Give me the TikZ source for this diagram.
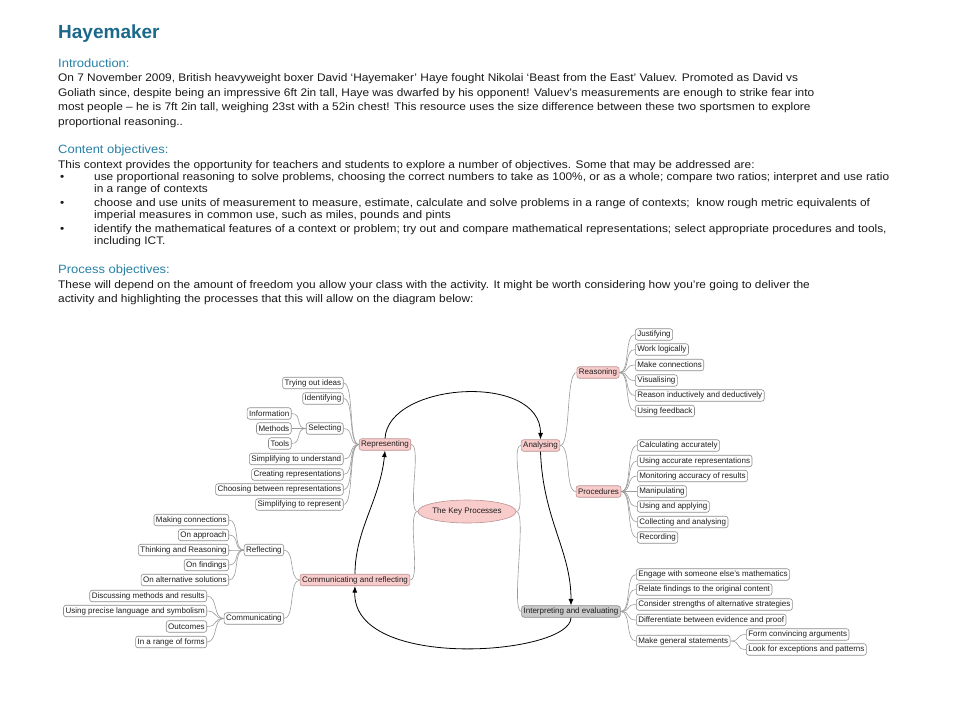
\documentclass[tikz,border=0pt]{standalone}
\usepackage{fontspec}
\setmainfont{Liberation Sans}
\newfontfamily\bodyfont[FakeStretch=1.08]{Liberation Sans}
\usepackage{xcolor}
\usetikzlibrary{shapes.geometric, arrows.meta}

\definecolor{titleblue}{RGB}{27,104,138}
\definecolor{headblue}{RGB}{38,128,165}
\definecolor{bodytext}{RGB}{25,25,25}
\definecolor{nodetext}{RGB}{30,30,30}
\definecolor{leafline}{RGB}{140,140,140}
\definecolor{branchgray}{RGB}{155,155,155}
\definecolor{pinkfill}{RGB}{249,204,204}
\definecolor{pinkline}{RGB}{190,145,145}
\definecolor{greyfill}{RGB}{202,202,202}
\definecolor{greyline}{RGB}{140,140,140}

\tikzset{
    body/.style={anchor=base west, inner sep=0pt, font=\bodyfont\fontsize{11}{13}\selectfont, text=bodytext},
    heading/.style={body, font=\bodyfont\fontsize{12}{14}\selectfont, text=headblue},
    leaf/.style={draw=leafline, line width=0.6pt, fill=white, rounded corners=2.5pt, font=\fontsize{8}{9}\selectfont,
        text=nodetext, inner xsep=2pt, inner ysep=0pt, minimum height=11.5pt},
    mainbox/.style={leaf, fill=pinkfill, draw=pinkline},
    evalbox/.style={leaf, fill=greyfill, draw=greyline},
    branch/.style={draw=branchgray, line width=0.6pt, out distance=11pt, in distance=11pt},
    loopline/.style={->, line width=0.8pt, black}
}

\begin{document}
\begin{tikzpicture}[x=1pt, y=-1pt, >={Latex[length=6.5pt,width=5pt]}]
    \useasboundingbox (0,0) rectangle (960,720);

    % 1. Header text
    \node[body, font=\fontsize{19}{22}\selectfont\bfseries, text=titleblue] (title) at (58,38) {Hayemaker};
    \node[heading] (intro) at (58,67) {Introduction:};
    \node[body] (i1) at (58,81.5) {On 7 November 2009, British heavyweight boxer David ‘Hayemaker’ Haye fought Nikolai ‘Beast from the East’ Valuev. Promoted as David vs};
    \node[body] (i2) at (58,96) {Goliath since, despite being an impressive 6ft 2in tall, Haye was dwarfed by his opponent! Valuev’s measurements are enough to strike fear into};
    \node[body] (i3) at (58,110.5) {most people – he is 7ft 2in tall, weighing 23st with a 52in chest! This resource uses the size difference between these two sportsmen to explore};
    \node[body] (i4) at (58,125) {proportional reasoning..};

    \node[heading] (content) at (58,153.5) {Content objectives:};
    \node[body] (c0) at (58,168) {This context provides the opportunity for teachers and students to explore a number of objectives. Some that may be addressed are:};
    \foreach \y/\n in {180.5/b1, 206.5/b2, 232.5/b3}
        \node[body] (\n) at (60,\y) {•};
    \node[body] (c1) at (94,180.5) {use proportional reasoning to solve problems, choosing the correct numbers to take as 100\%, or as a whole; compare two ratios; interpret and use ratio};
    \node[body] (c2) at (94,192.5) {in a range of contexts};
    \node[body] (c3) at (94,206.5) {choose and use units of measurement to measure, estimate, calculate and solve problems in a range of contexts;~ know rough metric equivalents of};
    \node[body] (c4) at (94,218.5) {imperial measures in common use, such as miles, pounds and pints};
    \node[body] (c5) at (94,232.5) {identify the mathematical features of a context or problem; try out and compare mathematical representations; select appropriate procedures and tools,};
    \node[body] (c6) at (94,244.5) {including ICT.};

    \node[heading] (process) at (58,273.5) {Process objectives:};
    \node[body] (p1) at (58,288) {These will depend on the amount of freedom you allow your class with the activity. It might be worth considering how you’re going to deliver the};
    \node[body] (p2) at (58,302.5) {activity and highlighting the processes that this will allow on the diagram below:};

    % 2. Centre and main processes
    \node[ellipse, draw=pinkline, line width=0.6pt, fill=pinkfill, font=\fontsize{8}{9}\selectfont, text=nodetext,
        minimum width=80pt, minimum height=23pt, inner sep=0pt] (kp) at (467,511.5) {The Key Processes};
    \node[mainbox] (rep) at (385,444.5) {Representing};
    \node[mainbox] (an) at (540.5,445.5) {Analysing};
    \node[mainbox] (comref) at (355,580) {Communicating and reflecting};
    \node[evalbox] (int) at (571,611.5) {Interpreting and evaluating};

    % 3. Representing branch
    \node[leaf, anchor=east] (tri) at (343.5,383) {Trying out ideas};
    \node[leaf, anchor=east] (ide) at (343.5,398.5) {Identifying};
    \node[leaf, anchor=east] (sel) at (343.5,428.5) {Selecting};
    \node[leaf, anchor=east] (sun) at (343.5,459) {Simplifying to understand};
    \node[leaf, anchor=east] (cre) at (343.5,474.5) {Creating representations};
    \node[leaf, anchor=east] (cho) at (343.5,489.5) {Choosing between representations};
    \node[leaf, anchor=east] (sre) at (343.5,504.5) {Simplifying to represent};
    \node[leaf, anchor=east] (inf) at (291.5,413.5) {Information};
    \node[leaf, anchor=east] (met) at (291.5,428.5) {Methods};
    \node[leaf, anchor=east] (too) at (291.5,443.5) {Tools};

    % 4. Communicating and reflecting branch
    \node[leaf, anchor=east] (refl) at (284,550) {Reflecting};
    \node[leaf, anchor=east] (commu) at (284,618.5) {Communicating};
    \node[leaf, anchor=east] (mak) at (229,520) {Making connections};
    \node[leaf, anchor=east] (app) at (229,535) {On approach};
    \node[leaf, anchor=east] (thi) at (229,550) {Thinking and Reasoning};
    \node[leaf, anchor=east] (fin) at (229,565) {On findings};
    \node[leaf, anchor=east] (alt) at (229,580) {On alternative solutions};
    \node[leaf, anchor=east] (dis) at (207,596) {Discussing methods and results};
    \node[leaf, anchor=east] (usi) at (207,611) {Using precise language and symbolism};
    \node[leaf, anchor=east] (outc) at (207,626.5) {Outcomes};
    \node[leaf, anchor=east] (ran) at (207,642) {In a range of forms};

    % 5. Analysing branch
    \node[mainbox] (rea) at (598,372.5) {Reasoning};
    \node[mainbox] (pro) at (598.5,491.5) {Procedures};
    \node[leaf, anchor=west] (jus) at (635,334.5) {Justifying};
    \node[leaf, anchor=west] (wor) at (635,349.5) {Work logically};
    \node[leaf, anchor=west] (mco) at (635,365) {Make connections};
    \node[leaf, anchor=west] (vis) at (635,380.5) {Visualising};
    \node[leaf, anchor=west] (rid) at (635,395.5) {Reason inductively and deductively};
    \node[leaf, anchor=west] (fee) at (635,411) {Using feedback};
    \node[leaf, anchor=west] (cal) at (637,445.5) {Calculating accurately};
    \node[leaf, anchor=west] (uar) at (637,461) {Using accurate representations};
    \node[leaf, anchor=west] (mon) at (637,476) {Monitoring accuracy of results};
    \node[leaf, anchor=west] (man) at (637,491.5) {Manipulating};
    \node[leaf, anchor=west] (uap) at (637,506.5) {Using and applying};
    \node[leaf, anchor=west] (col) at (637,522) {Collecting and analysing};
    \node[leaf, anchor=west] (rec) at (637,537.5) {Recording};

    % 6. Interpreting and evaluating branch
    \node[leaf, anchor=west] (eng) at (636,574.5) {Engage with someone else's mathematics};
    \node[leaf, anchor=west] (rel) at (636,589.5) {Relate findings to the original content};
    \node[leaf, anchor=west] (con) at (636,604.5) {Consider strengths of alternative strategies};
    \node[leaf, anchor=west] (dif) at (636,620) {Differentiate between evidence and proof};
    \node[leaf, anchor=west] (mgs) at (636,641) {Make general statements};
    \node[leaf, anchor=west] (fca) at (746,634.5) {Form convincing arguments};
    \node[leaf, anchor=west] (lfe) at (746,649.5) {Look for exceptions and patterns};

    % 7. Branch lines
    \foreach \c in {rep, comref}
        \draw[branch] (kp.west) to[out=180, in=0] (\c.east);
    \foreach \c in {an, int}
        \draw[branch] (kp.east) to[out=0, in=180] (\c.west);
    \foreach \c in {tri, ide, sel, sun, cre, cho, sre}
        \draw[branch] (rep.west) to[out=180, in=0] (\c.east);
    \foreach \c in {inf, met, too}
        \draw[branch] (sel.west) to[out=180, in=0] (\c.east);
    \foreach \c in {refl, commu}
        \draw[branch] (comref.west) to[out=180, in=0] (\c.east);
    \foreach \c in {mak, app, thi, fin, alt}
        \draw[branch] (refl.west) to[out=180, in=0] (\c.east);
    \foreach \c in {dis, usi, outc, ran}
        \draw[branch] (commu.west) to[out=180, in=0] (\c.east);
    \foreach \c in {rea, pro}
        \draw[branch] (an.east) to[out=0, in=180] (\c.west);
    \foreach \c in {jus, wor, mco, vis, rid, fee}
        \draw[branch] (rea.east) to[out=0, in=180] (\c.west);
    \foreach \c in {cal, uar, mon, man, uap, col, rec}
        \draw[branch] (pro.east) to[out=0, in=180] (\c.west);
    \foreach \c in {eng, rel, con, dif, mgs}
        \draw[branch] (int.east) to[out=0, in=180] (\c.west);
    \foreach \c in {fca, lfe}
        \draw[branch] (mgs.east) to[out=0, in=180] (\c.west);

    % 8. Cycle of the key processes
    \draw[loopline] (rep.north) .. controls (388,382) and (541,372) .. (an.north);
    \draw[loopline] (an.south) .. controls (543,520) and (571,550) .. (int.north);
    \draw[loopline] (int.south) .. controls (571,655) and (352,672) .. (comref.south);
    \draw[loopline] (comref.north) .. controls (355,530) and (380,500) .. (rep.south);
\end{tikzpicture}
\end{document}
